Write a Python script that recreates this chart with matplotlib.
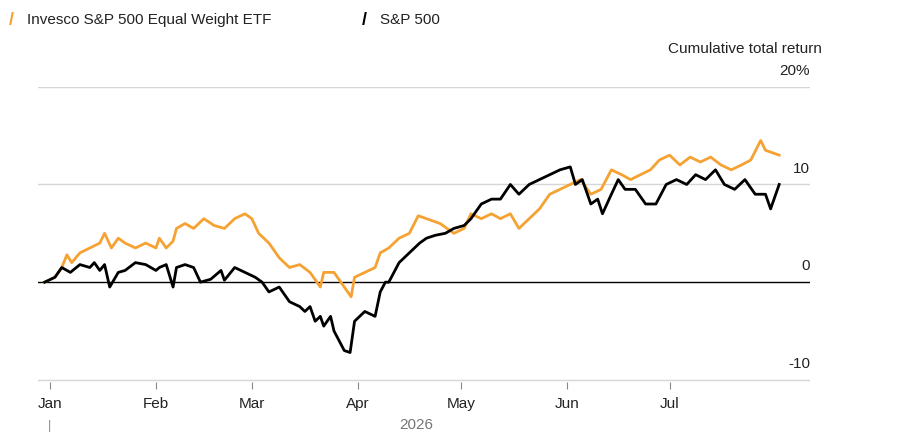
import matplotlib.pyplot as plt

plt.rcParams['font.family'] = ['Liberation Sans', 'DejaVu Sans']

# day-of-year positions (Jan 1 = 0) and cumulative total return, %
ew_days = [-1.5, 1.5, 3.5, 5, 6.4, 8.8, 11.7, 14.6, 16, 18, 20, 22, 25, 28, 31, 32, 34, 36, 37, 39.5,
           42, 45, 48, 51, 54, 57, 59, 61, 64, 67, 70, 73, 76, 79, 80, 83, 86, 88, 89, 92, 95, 96.5,
           99, 102, 105, 107.6, 110, 114, 118, 121, 123, 126, 129, 131.6, 134.5, 137, 140, 143, 146,
           149, 152, 155, 158, 161, 164, 167, 169.6, 172.5, 175.4, 178, 181, 184, 187, 190, 193, 196,
           199, 202, 204.7, 207.6, 209, 213]
ew_vals = [0, 0.5, 1.5, 2.8, 2, 3, 3.5, 4, 5, 3.5, 4.5, 4, 3.5, 4, 3.5, 4.5, 3.5, 4.2, 5.5, 6,
           5.5, 6.5, 5.8, 5.5, 6.5, 7, 6.5, 5, 4, 2.5, 1.5, 1.8, 1, -0.5, 1, 1, -0.5, -1.5, 0.5, 1, 1.5, 3,
           3.5, 4.5, 5, 6.8, 6.5, 6, 5, 5.5, 7, 6.5, 7, 6.5, 7, 5.5, 6.5, 7.5, 9,
           9.5, 10, 10.5, 9, 9.5, 11.5, 11, 10.5, 11, 11.5, 12.5, 13, 12, 12.8, 12.3, 12.8, 12,
           11.5, 12, 12.5, 14.5, 13.5, 13]

spx_days = [-1.5, 1.5, 3.5, 6, 8.8, 11.7, 13, 14.6, 16, 17.5, 20, 22, 25, 28, 31, 32, 34, 36, 37, 39.5,
            42, 44, 47, 50, 51, 54, 57, 60, 62, 64, 67, 70, 73, 74.5, 76, 77.5, 79, 80, 82, 83, 86, 87.7,
            89, 92, 95, 96.5, 98, 99, 102, 105, 108, 110, 112.6, 115.5, 118, 121, 123, 126, 129, 131.6,
            134.5, 137, 140, 143, 146, 149, 152, 153.5, 155.5, 158, 160, 161.4, 164, 166, 168, 171, 174,
            177, 180, 183, 186, 188.6, 191.5, 194.4, 197, 200, 203, 206, 209, 210.5, 213]
spx_vals = [0, 0.5, 1.5, 1, 1.8, 1.5, 2, 1.2, 1.8, -0.5, 1, 1.2, 2, 1.8, 1.2, 1.5, 1.8, -0.5, 1.5, 1.8,
            1.5, 0, 0.3, 1.2, 0.2, 1.5, 1, 0.5, 0, -1, -0.5, -2, -2.5, -3, -2.5, -4, -3.5, -4.5, -3.5, -5, -7, -7.2,
            -4, -3, -3.5, -1, 0, 0, 2, 3, 4, 4.5, 4.8, 5, 5.5, 5.8, 6.5, 8, 8.5, 8.5,
            10, 9, 10, 10.5, 11, 11.5, 11.8, 10, 10.5, 8, 8.5, 7, 9, 10.5, 9.5, 9.5, 8,
            8, 10, 10.5, 10, 11, 10.5, 11.5, 10, 9.5, 10.5, 9, 9, 7.5, 10]

month_days = [0, 31, 59, 90, 120, 151, 181]
month_labels = ['Jan', 'Feb', 'Mar', 'Apr', 'May', 'Jun', 'Jul']
y_ticks = [-10, 0, 10, 20]
y_labels = ['-10', '0', '10', '20%']

orange = '#f5a233'
grid = '#d6d6d6'
txt = '#222222'
fs = 11

fig = plt.figure(figsize=(9, 4.45), dpi=100)
ax = fig.add_axes([0.042, 0.142, 0.858, 0.663])

for t in y_ticks:
    ax.axhline(t, color='black' if t == 0 else grid, lw=1, zorder=1)

ax.plot(ew_days, ew_vals, color=orange, lw=2, zorder=3)
ax.plot(spx_days, spx_vals, color='black', lw=2, zorder=4)

ax.set_xlim(-3.5, 222)
ax.set_ylim(-10.2, 20)
for s in ax.spines.values():
    s.set_visible(False)
ax.set_yticks([])
ax.set_xticks(month_days)
ax.set_xticklabels(month_labels, fontsize=fs, color=txt)
ax.tick_params(axis='x', length=5, color='#888888', pad=6)

for t, lab in zip(y_ticks, y_labels):
    ax.text(222, t + 0.9, lab, ha='right', va='bottom', fontsize=fs, color=txt)
fig.text(0.913, 0.875, 'Cumulative total return', ha='right', va='bottom', fontsize=fs, color=txt)

fig.text(0.462, 0.035, '2026', ha='center', fontsize=fs, color='#777777')
fig.text(0.055, 0.035, '|', ha='center', fontsize=9, color='#888888')

# legend
fig.text(0.01, 0.955, '/', fontsize=13, color=orange, fontweight='bold', va='center')
fig.text(0.03, 0.955, 'Invesco S&P 500 Equal Weight ETF', fontsize=fs, color=txt, va='center')
fig.text(0.402, 0.955, '/', fontsize=13, color='black', fontweight='bold', va='center')
fig.text(0.422, 0.955, 'S&P 500', fontsize=fs, color=txt, va='center')

fig.savefig('out.png', dpi=100)
